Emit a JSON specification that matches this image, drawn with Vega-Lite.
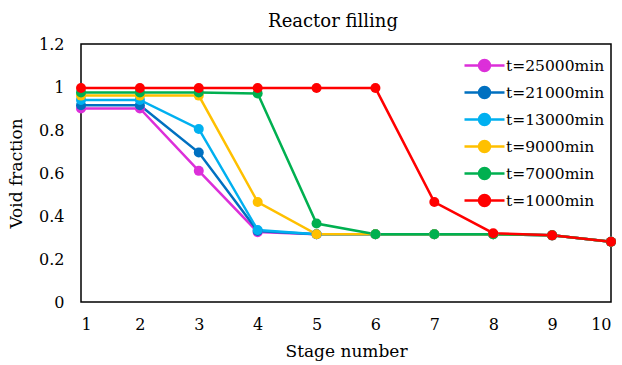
{
  "$schema": "https://vega.github.io/schema/vega-lite/v6.json",
  "width": 530,
  "height": 258,
  "autosize": {"type": "none"},
  "padding": {"left": 81, "top": 44, "right": 11, "bottom": 63},
  "background": "white",
  "config": {
    "font": "DejaVu Serif",
    "view": {"stroke": "black", "strokeWidth": 1.5},
    "axis": {"grid": false, "ticks": false, "domain": false, "labelFont": "DejaVu Serif", "titleFont": "DejaVu Serif", "labelColor": "black", "titleColor": "black", "labelFontSize": 16, "titleFontSize": 17, "titleFontWeight": "normal"},
    "legend": {"labelFont": "DejaVu Serif"},
    "title": {"font": "DejaVu Serif"}
  },
  "title": {"text": "Reactor filling", "fontSize": 18, "fontWeight": "normal", "color": "black", "anchor": "middle", "dx": -13, "offset": 5},
  "data": {"values": [
    {"stage": 1, "v": 0.90, "t": "t=25000min"}, {"stage": 2, "v": 0.90, "t": "t=25000min"}, {"stage": 3, "v": 0.61, "t": "t=25000min"}, {"stage": 4, "v": 0.325, "t": "t=25000min"}, {"stage": 5, "v": 0.315, "t": "t=25000min"}, {"stage": 6, "v": 0.315, "t": "t=25000min"}, {"stage": 7, "v": 0.315, "t": "t=25000min"}, {"stage": 8, "v": 0.315, "t": "t=25000min"}, {"stage": 9, "v": 0.31, "t": "t=25000min"}, {"stage": 10, "v": 0.28, "t": "t=25000min"},
    {"stage": 1, "v": 0.915, "t": "t=21000min"}, {"stage": 2, "v": 0.915, "t": "t=21000min"}, {"stage": 3, "v": 0.695, "t": "t=21000min"}, {"stage": 4, "v": 0.33, "t": "t=21000min"}, {"stage": 5, "v": 0.315, "t": "t=21000min"}, {"stage": 6, "v": 0.315, "t": "t=21000min"}, {"stage": 7, "v": 0.315, "t": "t=21000min"}, {"stage": 8, "v": 0.315, "t": "t=21000min"}, {"stage": 9, "v": 0.31, "t": "t=21000min"}, {"stage": 10, "v": 0.28, "t": "t=21000min"},
    {"stage": 1, "v": 0.94, "t": "t=13000min"}, {"stage": 2, "v": 0.94, "t": "t=13000min"}, {"stage": 3, "v": 0.805, "t": "t=13000min"}, {"stage": 4, "v": 0.335, "t": "t=13000min"}, {"stage": 5, "v": 0.315, "t": "t=13000min"}, {"stage": 6, "v": 0.315, "t": "t=13000min"}, {"stage": 7, "v": 0.315, "t": "t=13000min"}, {"stage": 8, "v": 0.315, "t": "t=13000min"}, {"stage": 9, "v": 0.31, "t": "t=13000min"}, {"stage": 10, "v": 0.28, "t": "t=13000min"},
    {"stage": 1, "v": 0.96, "t": "t=9000min"}, {"stage": 2, "v": 0.96, "t": "t=9000min"}, {"stage": 3, "v": 0.96, "t": "t=9000min"}, {"stage": 4, "v": 0.465, "t": "t=9000min"}, {"stage": 5, "v": 0.315, "t": "t=9000min"}, {"stage": 6, "v": 0.315, "t": "t=9000min"}, {"stage": 7, "v": 0.315, "t": "t=9000min"}, {"stage": 8, "v": 0.315, "t": "t=9000min"}, {"stage": 9, "v": 0.31, "t": "t=9000min"}, {"stage": 10, "v": 0.28, "t": "t=9000min"},
    {"stage": 1, "v": 0.975, "t": "t=7000min"}, {"stage": 2, "v": 0.975, "t": "t=7000min"}, {"stage": 3, "v": 0.975, "t": "t=7000min"}, {"stage": 4, "v": 0.97, "t": "t=7000min"}, {"stage": 5, "v": 0.365, "t": "t=7000min"}, {"stage": 6, "v": 0.315, "t": "t=7000min"}, {"stage": 7, "v": 0.315, "t": "t=7000min"}, {"stage": 8, "v": 0.315, "t": "t=7000min"}, {"stage": 9, "v": 0.31, "t": "t=7000min"}, {"stage": 10, "v": 0.28, "t": "t=7000min"},
    {"stage": 1, "v": 0.995, "t": "t=1000min"}, {"stage": 2, "v": 0.995, "t": "t=1000min"}, {"stage": 3, "v": 0.995, "t": "t=1000min"}, {"stage": 4, "v": 0.995, "t": "t=1000min"}, {"stage": 5, "v": 0.995, "t": "t=1000min"}, {"stage": 6, "v": 0.995, "t": "t=1000min"}, {"stage": 7, "v": 0.465, "t": "t=1000min"}, {"stage": 8, "v": 0.32, "t": "t=1000min"}, {"stage": 9, "v": 0.31, "t": "t=1000min"}, {"stage": 10, "v": 0.28, "t": "t=1000min"}
  ]},
  "encoding": {
    "x": {"field": "stage", "type": "quantitative", "title": "Stage number", "scale": {"domain": [1, 10], "nice": false}, "axis": {"values": [1,2,3,4,5,6,7,8,9,10], "format": "d", "labelPadding": 14, "titlePadding": 11}},
    "y": {"field": "v", "type": "quantitative", "title": "Void fraction", "scale": {"domain": [0, 1.2], "nice": false}, "axis": {"values": [0,0.2,0.4,0.6,0.8,1,1.2], "format": "~g", "labelPadding": 17, "titlePadding": 13}},
    "color": {"field": "t", "type": "nominal", "sort": null,
      "scale": {"domain": ["t=25000min","t=21000min","t=13000min","t=9000min","t=7000min","t=1000min"], "range": ["#dc2fd9","#0070c0","#00b0f0","#ffc000","#00b050","#ff0000"]},
      "legend": {"title": null, "orient": "none", "legendX": 392, "legendY": 10, "labelFontSize": 15.5, "labelColor": "black", "symbolType": "M-2,0L2,0M-0.55,0A0.55,0.55,0,1,1,0.55,0A0.55,0.55,0,1,1,-0.55,0Z", "symbolSize": 400, "symbolStrokeWidth": 2.5, "rowPadding": 5, "labelOffset": 10,
        "encode": {"symbols": {"update": {"fill": {"scale": "color", "field": "value"}, "stroke": {"scale": "color", "field": "value"}, "opacity": {"value": 1}}}}}
    }
  },
  "layer": [
    {"mark": {"type": "line", "strokeWidth": 2.5}},
    {"mark": {"type": "point", "filled": true, "size": 100, "opacity": 1}}
  ]
}
